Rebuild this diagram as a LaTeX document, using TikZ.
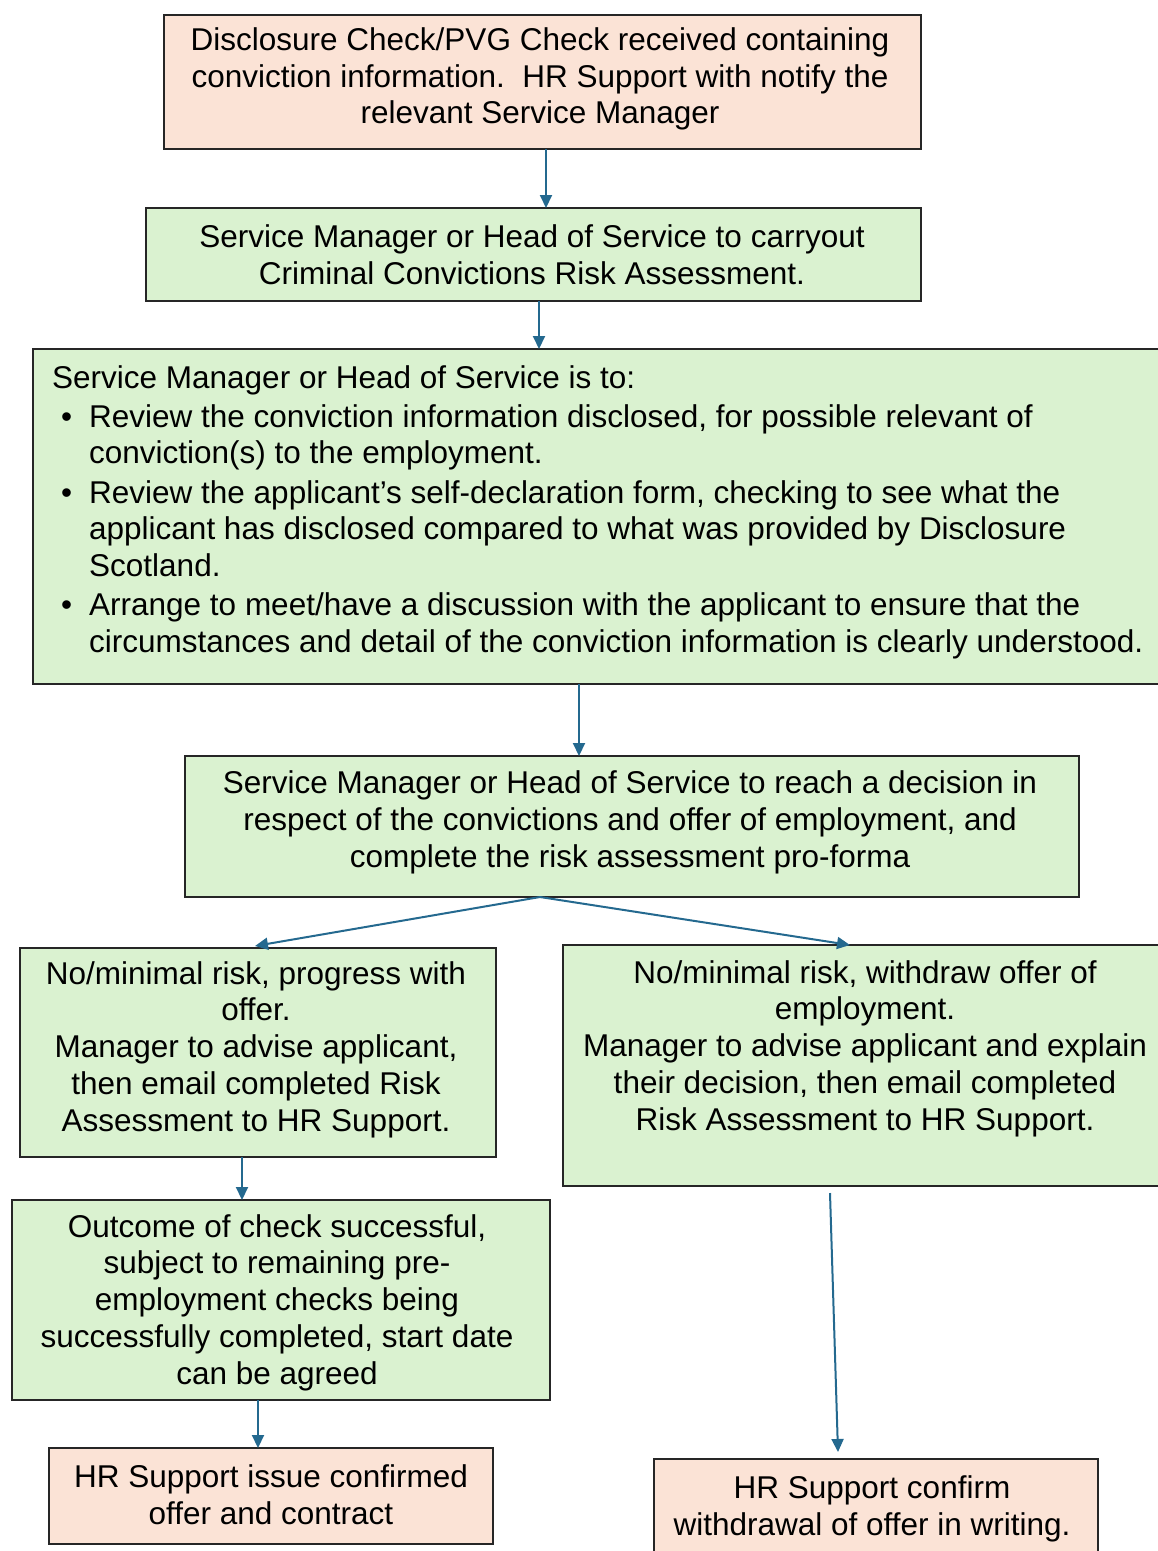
\documentclass[tikz,border=0pt]{standalone}
\usepackage{fontspec}
\setmainfont{Liberation Sans}
\usetikzlibrary{arrows.meta,calc}
\definecolor{salmon}{HTML}{FBE3D6}
\definecolor{mint}{HTML}{DAF2D0}
\definecolor{arrowblue}{HTML}{24698F}
\begin{document}
\begin{tikzpicture}[x=1pt,y=-1pt,
  box/.style={draw=black!85,line width=2.2pt,rectangle,inner sep=0pt,outer sep=0pt,anchor=north west},
  peach/.style={box,fill=salmon},
  green/.style={box,fill=mint},
  txt/.style={align=center,inner sep=0pt,font=\fontsize{31.5}{36.7}\selectfont},
  arr/.style={draw=arrowblue,line width=2pt,-{Triangle[length=13pt,width=12pt]}}]
\useasboundingbox (0,0) rectangle (1158,1551);
% boxes
\node[peach,minimum width=757pt,minimum height=134pt] (b1) at (164,15) {};
\node[green,minimum width=775pt,minimum height=93pt] (b2) at (146,208) {};
\node[green,minimum width=1129pt,minimum height=335pt] (b3) at (33,349) {};
\node[green,minimum width=894pt,minimum height=141pt] (b4) at (185,756) {};
\node[green,minimum width=476pt,minimum height=209pt] (b5) at (20,948) {};
\node[green,minimum width=599pt,minimum height=241pt] (b6) at (563,945) {};
\node[green,minimum width=538pt,minimum height=200pt] (b7) at (12,1200) {};
\node[peach,minimum width=444pt,minimum height=96pt] (b8) at (49,1448) {};
\node[peach,minimum width=444pt,minimum height=96pt] (b9) at (654,1459) {};
% texts
\node[txt] (t1) at (540,79) {Disclosure Check/PVG Check received containing\\conviction information.\ \ HR Support with notify the\\relevant Service Manager};
\node[txt] (t2) at (532,255) {Service Manager or Head of Service to carryout\\Criminal Convictions Risk Assessment.};
\node[txt,align=left,anchor=north west] (t3) at (52,365) {Service Manager or Head of Service is to:\\[2.5pt]
\makebox[37pt][l]{\hspace{9pt}\textbullet}Review the conviction information disclosed, for possible relevant of\\
\hspace*{37pt}conviction(s) to the employment.\\[2.5pt]
\makebox[37pt][l]{\hspace{9pt}\textbullet}Review the applicant's self-declaration form, checking to see what the\\
\hspace*{37pt}applicant has disclosed compared to what was provided by Disclosure\\
\hspace*{37pt}Scotland.\\[2.5pt]
\makebox[37pt][l]{\hspace{9pt}\textbullet}Arrange to meet/have a discussion with the applicant to ensure that the\\
\hspace*{37pt}circumstances and detail of the conviction information is clearly understood.};
\node[txt] (t4) at (630,822.5) {Service Manager or Head of Service to reach a decision in\\respect of the convictions and offer of employment, and\\complete the risk assessment pro-forma};
\node[txt] (t5) at (256,1049.5) {No/minimal risk, progress with\\offer.\\Manager to advise applicant,\\then email completed Risk\\Assessment to HR Support.};
\node[txt] (t6) at (865,1048.5) {No/minimal risk, withdraw offer of\\employment.\\Manager to advise applicant and explain\\their decision, then email completed\\Risk Assessment to HR Support.};
\node[txt] (t7) at (277,1302.5) {Outcome of check successful,\\subject to remaining pre-\\employment checks being\\successfully completed, start date\\can be agreed};
\node[txt] (t8) at (271,1494.5) {HR Support issue confirmed\\offer and contract};
\node[txt] (t9) at (872,1508.5) {HR Support confirm\\withdrawal of offer in writing.};
% connectors
\draw[arr] ([xshift=3.5pt]b1.south) -- ([xshift=3.5pt]b1.south |- b2.north);
\draw[arr] ([xshift=5.5pt]b2.south) -- ([xshift=5.5pt]b2.south |- b3.north);
\draw[arr] ([xshift=-18.5pt]b3.south) -- ([xshift=-18.5pt]b3.south |- b4.north);
\draw[arr] ([xshift=-92pt]b4.south) -- ([xshift=-3pt,yshift=2pt]b5.north);
\draw[arr] ([xshift=-92pt]b4.south) -- ([xshift=-12.5pt]b6.north);
\draw[arr] ([xshift=-16pt]b5.south) -- ([xshift=-16pt]b5.south |- b7.north);
\draw[arr] ([xshift=-23pt]b7.south) -- ([xshift=-23pt]b7.south |- b8.north);
\draw[arr] ([xshift=-32.5pt,yshift=-7pt]b6.south) -- ([xshift=-38pt,yshift=7pt]b9.north);
\end{tikzpicture}
\end{document}
